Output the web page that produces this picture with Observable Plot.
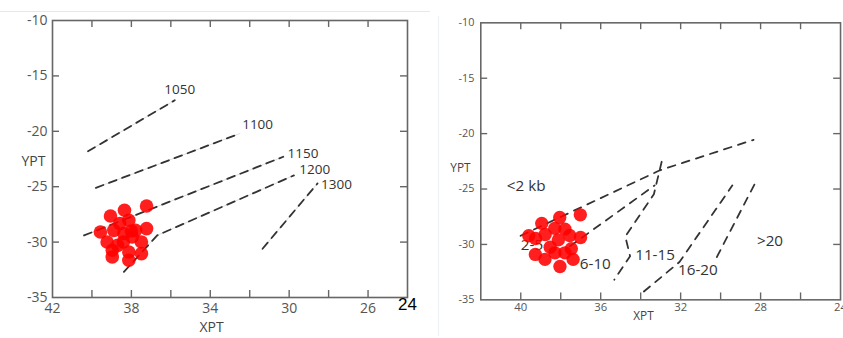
<!DOCTYPE html>
<html>
<head>
<meta charset="utf-8">
<script src="https://cdn.jsdelivr.net/npm/d3@7"></script>
<script src="https://cdn.jsdelivr.net/npm/@observablehq/plot@0.6"></script>
<style>
  html, body { margin: 0; padding: 0; background: #fff; }
  #page { position: relative; width: 843px; height: 338px; overflow: hidden; background: #fff; }
  .panel { position: absolute; top: 0; }
  #left { left: 0; }
  #right { left: 420px; }
  .hair-h { position: absolute; left: 0; top: 11px; width: 430px; height: 1px; background: #e4e9ef; }
  .hair-v { position: absolute; left: 438px; top: 16px; width: 1px; height: 320px; background: #edf1f5; }
</style>
</head>
<body>
<div id="page">
  <div class="hair-h"></div>
  <div class="hair-v"></div>
  <div id="left" class="panel"></div>
  <div id="right" class="panel"></div>
</div>
<script>
// ---- Left panel: samples on the XPT/YPT thermometer grid ----
const tempDotsX = [37.23, 38.35, 39.06, 38.13, 38.59, 39.57, 37.23, 37.79, 38.89, 38.38,
                   39.23, 38.41, 37.49, 37.96, 38.97, 38.13, 37.49, 38.97, 38.13, 38.70, 38.00];
const tempDotsY = [-26.74, -27.13, -27.65, -28.03, -28.33, -29.09, -28.78, -28.94, -28.94, -29.23,
                   -29.99, -29.99, -29.99, -29.54, -30.74, -30.89, -31.04, -31.34, -31.64, -30.30, -29.00];

// isotherms (°C) as polylines
const isoLabels = ["1050", "1100", "1150", "1200", "1300"];
const isoLineX = [[40.2, 35.8], [39.8, 32.5], [40.4, 30.3], [38.38, 36.69, 29.76], [31.35, 28.56]];
const isoLineY = [[-21.8, -17.2], [-25.1, -20.2], [-29.4, -22.3], [-32.69, -29.39, -23.98], [-30.6, -24.7]];
const isoLabelX = [35.55, 31.6, 29.3, 28.7, 27.6];
const isoLabelY = [-16.2, -19.4, -22.0, -23.45, -24.8];

// ---- Right panel: samples on the XPT/YPT barometer grid ----
const presDotsX = [37.02, 38.05, 38.95, 37.79, 38.30, 39.60, 38.78, 39.26, 37.01, 37.55,
                   38.12, 38.53, 37.47, 39.27, 38.79, 38.04, 37.38, 37.79, 38.29];
const presDotsY = [-27.33, -27.57, -28.10, -28.62, -28.55, -29.22, -29.10, -29.46, -29.37, -29.19,
                   -29.59, -30.26, -30.39, -30.90, -31.35, -31.99, -31.35, -30.76, -30.76];

// pressure field boundaries as polylines
const boundLineX = [[40.01, 33.04, 28.35], [37.54, 33.30], [32.95, 33.34, 34.77, 34.53, 35.32],
                    [33.84, 32.06, 29.41], [30.19, 28.28]];
const boundLineY = [[-29.22, -23.31, -20.56], [-30.17, -24.67], [-22.54, -25.47, -29.28, -31.06, -33.19],
                    [-34.25, -31.59, -24.67], [-31.14, -24.49]];
const presLabels = ["<2 kb", "2-5", "6-10", "11-15", "16-20", ">20"];
const presLabelX = [39.73, 39.44, 36.27, 33.28, 31.14, 27.53];
const presLabelY = [-24.77, -30.02, -31.74, -31.0, -32.33, -29.66];

// ---- axes ----
const leftXTickLabels = [42, 38, 34, 30, 26];
const leftXEdgeLabel = [24];
const rightXTickLabels = [40, 36, 32, 28, 24];
const yTickLabels = [-10, -15, -20, -25, -30, -35];
const xTickMarks = [40, 38, 36, 34, 32, 30, 28, 26];
const yTickMarks = [-15, -20, -25, -30];

const toRows = (xs, ys) => xs.flatMap((line, k) => line.map((x, j) => ({x, y: ys[k][j], k})));
const toPoints = (xs, ys) => xs.map((x, i) => ({x, y: ys[i]}));

const FONT = "'Open Sans', sans-serif";
const FRAME = "#666";
const DASH = "#333";

function framedPanel({width, height, mL, mR, mT, mB, tick, marks}) {
  const fw = width - mL - mR, fh = height - mT - mB;
  return Plot.plot({
    width, height,
    marginLeft: mL, marginRight: mR, marginTop: mT, marginBottom: mB,
    x: {domain: [42, 24], axis: null},
    y: {domain: [-35, -10], axis: null},
    style: {fontFamily: FONT, background: "transparent", overflow: "visible"},
    marks: [
      Plot.frame({stroke: FRAME, strokeWidth: 1.6}),
      // inward tick marks on all four sides
      Plot.ruleX(xTickMarks, {x: d => d, insetTop: fh - tick, stroke: FRAME, strokeWidth: 1.4}),
      Plot.ruleX(xTickMarks, {x: d => d, insetBottom: fh - tick, stroke: FRAME, strokeWidth: 1.4}),
      Plot.ruleY(yTickMarks, {y: d => d, insetRight: fw - tick, stroke: FRAME, strokeWidth: 1.4}),
      Plot.ruleY(yTickMarks, {y: d => d, insetLeft: fw - tick, stroke: FRAME, strokeWidth: 1.4}),
      ...marks
    ]
  });
}

// Left: temperature grid
const left = framedPanel({
  width: 420, height: 338, mL: 52, mR: 13, mT: 20, mB: 41, tick: 7,
  marks: [
    Plot.text(yTickLabels, {y: d => d, frameAnchor: "left", dx: -5, textAnchor: "end",
      text: d => String(d), fontSize: 14, fill: "#555"}),
    Plot.text(leftXTickLabels, {x: d => d, frameAnchor: "bottom", dy: 15,
      text: d => String(d), fontSize: 14, fill: "#555"}),
    Plot.text(leftXEdgeLabel, {x: d => d, frameAnchor: "bottom", dy: 12,
      text: d => String(d), fontSize: 17, fill: "#000", fontFamily: "'Liberation Sans', Arial, sans-serif"}),
    Plot.text(["XPT"], {frameAnchor: "bottom", dx: -18.5, dy: 34, fontSize: 14, fill: "#444"}),
    Plot.text(["YPT"], {frameAnchor: "left", dx: -31, dy: 2.5, fontSize: 14, fill: "#444"}),
    Plot.line(toRows(isoLineX, isoLineY), {x: "x", y: "y", z: "k", stroke: "#d6d6d6", strokeWidth: 0.8}),
    Plot.line(toRows(isoLineX, isoLineY), {x: "x", y: "y", z: "k", stroke: DASH, strokeWidth: 1.8,
      strokeDasharray: "8,6"}),
    Plot.text(isoLabels, {x: (d, i) => isoLabelX[i], y: (d, i) => isoLabelY[i], text: d => d,
      fontSize: 13.5, fill: "#333"}),
    Plot.dot(toPoints(tempDotsX, tempDotsY), {x: "x", y: "y", r: 6.8, fill: "#ff0000", fillOpacity: 0.88})
  ]
});
document.getElementById("left").append(left);

// Right: pressure grid (its right edge runs past the page)
const right = framedPanel({
  width: 430, height: 338, mL: 61.3, mR: 3, mT: 22.7, mB: 33.7, tick: 7,
  marks: [
    Plot.text(yTickLabels, {y: d => d, frameAnchor: "left", dx: -6.5, textAnchor: "end",
      text: d => String(d), fontSize: 11, fill: "#555", letterSpacing: -1.3}),
    Plot.text(rightXTickLabels, {x: d => d, frameAnchor: "bottom", dy: 11,
      text: d => String(d), fontSize: 11.5, fill: "#555"}),
    Plot.text(["XPT"], {frameAnchor: "bottom", dx: -17.5, dy: 21, fontSize: 12, fill: "#444"}),
    Plot.text(["YPT"], {frameAnchor: "left", dx: -31, dy: 7, fontSize: 12, fill: "#444"}),
    Plot.line(toRows(boundLineX, boundLineY), {x: "x", y: "y", z: "k", stroke: DASH, strokeWidth: 1.8,
      strokeDasharray: "8,7"}),
    Plot.text(presLabels, {x: (d, i) => presLabelX[i], y: (d, i) => presLabelY[i], text: d => d,
      fontSize: 15.5, fill: "#333"}),
    Plot.dot(toPoints(presDotsX, presDotsY), {x: "x", y: "y", r: 6.8, fill: "#ff0000", fillOpacity: 0.88})
  ]
});
document.getElementById("right").append(right);
</script>
</body>
</html>
